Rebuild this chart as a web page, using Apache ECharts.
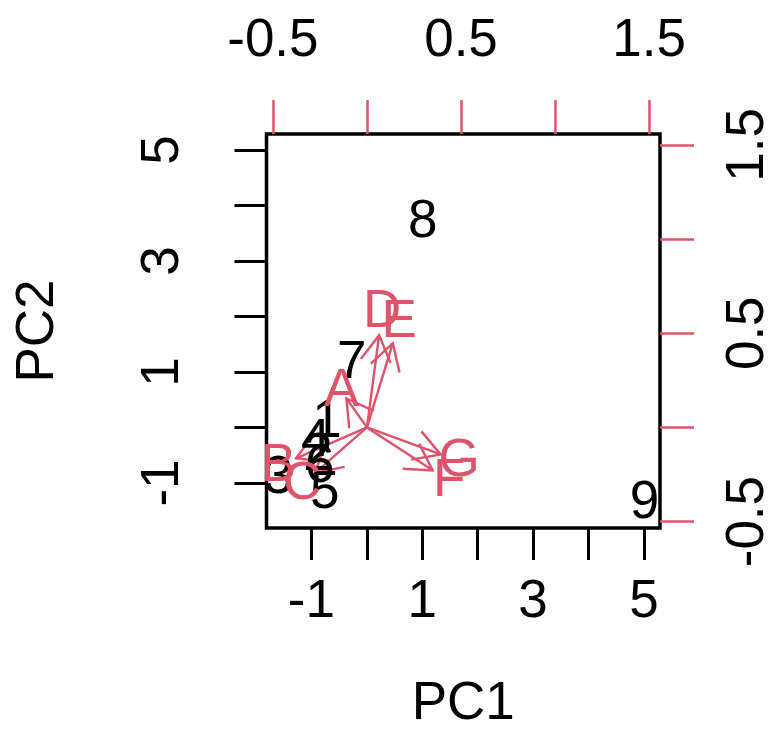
<!DOCTYPE html>
<html>
<head>
<meta charset="utf-8">
<script src="https://cdn.jsdelivr.net/npm/echarts@6/dist/echarts.min.js"></script>
<style>
html,body{margin:0;padding:0;background:#fff;}
#chart{width:781px;height:751px;}
</style>
</head>
<body>
<div id="chart"></div>
<script>
// Observation scores (PC1, PC2)
var obsNames = ['1','2','3','4','5','6','7','8','9'];
var obsPC1 = [-0.72, -0.88, -1.60, -0.92, -0.76, -0.85, -0.27, 1.01, 5.01];
var obsPC2 = [0.09, -0.50, -0.92, -0.25, -1.19, -0.72, 1.16, 3.69, -1.37];

// Variable loadings (PC1, PC2)
var varNames = ['A','B','C','D','E','F','G'];
var varPC1 = [-0.136, -0.471, -0.344, 0.081, 0.172, 0.437, 0.490];
var varPC2 = [0.193, -0.205, -0.301, 0.612, 0.559, -0.285, -0.179];

// Axis ticks / labels
var scoreTicks = [-1, 0, 1, 2, 3, 4, 5];
var scoreLabels = [-1, 1, 3, 5];
var loadTicks = [-0.5, 0, 0.5, 1, 1.5];
var loadLabels = [-0.5, 0.5, 1.5];
var scoreRange = [-1.81, 5.29];
var loadRange = [-0.534, 1.558];
var arrowScale = 0.8;

var RED = '#DF536B';
var FONT = 'Liberation Sans, Arial, Helvetica, sans-serif';
var FS = 53;

var chart = echarts.init(document.getElementById('chart'), null, {renderer: 'canvas'});

var obsData = obsNames.map(function (n, i) { return {name: n, value: [obsPC1[i], obsPC2[i]]}; });
var varData = varNames.map(function (n, i) { return {name: n, value: [varPC1[i], varPC2[i]]}; });

function scoreAxis(pos, isY) {
  return {
    type: 'value', position: pos, min: scoreRange[0], max: scoreRange[1],
    gridIndex: 0,
    axisLine: {show: false, onZero: false},
    splitLine: {show: false},
    axisTick: {show: true, inside: false, length: 32, customValues: scoreTicks,
      lineStyle: {color: '#000', width: 3}},
    axisLabel: {show: true, customValues: scoreLabels, fontSize: FS, fontFamily: FONT,
      color: '#000', margin: isY ? 77 : 48, rotate: isY ? 90 : 0},
    name: isY ? 'PC2' : 'PC1', nameLocation: 'middle',
    nameGap: isY ? 202 : 150,
    nameRotate: isY ? 90 : 0,
    nameTextStyle: {fontSize: FS, fontFamily: FONT, color: '#000'}
  };
}
function loadAxis(pos, isY) {
  return {
    type: 'value', position: pos, min: loadRange[0], max: loadRange[1],
    gridIndex: 0,
    axisLine: {show: false, onZero: false},
    splitLine: {show: false},
    axisTick: {show: true, inside: false, length: 34, customValues: loadTicks,
      lineStyle: {color: RED, width: 2.5}},
    axisLabel: {show: true, customValues: loadLabels, fontSize: FS, fontFamily: FONT,
      color: '#000', margin: isY ? 62 : 66, rotate: isY ? 90 : 0}
  };
}

var option = {
  animation: false,
  backgroundColor: '#fff',
  grid: {left: 266.5, top: 134, width: 393.5, height: 394, show: true,
    containLabel: false, outerBoundsMode: 'none',
    borderColor: '#000', borderWidth: 3.5, backgroundColor: 'transparent'},
  xAxis: [scoreAxis('bottom', false), loadAxis('top', false)],
  yAxis: [scoreAxis('left', true), loadAxis('right', true)],
  series: [
    {
      type: 'scatter', xAxisIndex: 0, yAxisIndex: 0,
      symbolSize: 0, data: obsData, silent: true,
      itemStyle: {opacity: 1},
      label: {show: true, position: 'inside', formatter: '{b}', fontSize: FS,
        fontFamily: FONT, color: '#000', textBorderWidth: 0, opacity: 1}
    },
    {
      type: 'custom', xAxisIndex: 1, yAxisIndex: 1, silent: true,
      data: varData,
      renderItem: function (params, api) {
        var o = api.coord([0, 0]);
        var e = api.coord([api.value(0) * arrowScale, api.value(1) * arrowScale]);
        var ang = Math.atan2(e[1] - o[1], e[0] - o[0]);
        var L = 30, a = Math.PI / 6;
        var p1 = [e[0] - L * Math.cos(ang - a), e[1] - L * Math.sin(ang - a)];
        var p2 = [e[0] - L * Math.cos(ang + a), e[1] - L * Math.sin(ang + a)];
        return {type: 'group', children: [
          {type: 'line', shape: {x1: o[0], y1: o[1], x2: e[0], y2: e[1]},
            style: {stroke: RED, lineWidth: 2.4}},
          {type: 'polyline', shape: {points: [p1, e, p2]},
            style: {stroke: RED, fill: null, lineWidth: 2.4}}
        ]};
      }
    },
    {
      type: 'scatter', xAxisIndex: 1, yAxisIndex: 1,
      symbolSize: 0, data: varData, silent: true,
      itemStyle: {opacity: 1},
      label: {show: true, position: 'inside', formatter: '{b}', fontSize: FS,
        fontFamily: FONT, color: RED, textBorderWidth: 0, opacity: 1}
    }
  ]
};
chart.setOption(option);
</script>
</body>
</html>
